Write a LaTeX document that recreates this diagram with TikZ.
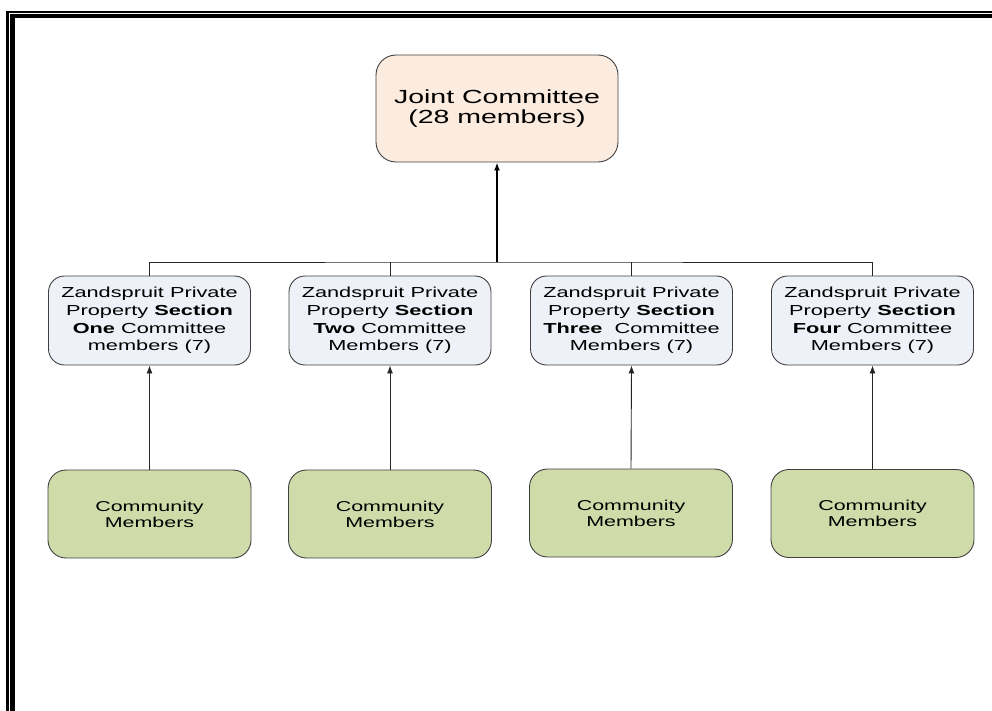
\documentclass[tikz,border=0pt]{standalone}
\usepackage{fontspec}
\newfontfamily\chartfont[FakeStretch=1.5]{Liberation Sans}
\usetikzlibrary{arrows.meta}
\definecolor{jointfill}{HTML}{FCEBDF}
\definecolor{sectionfill}{HTML}{EEF1F7}
\definecolor{communityfill}{HTML}{CFDCAA}
\tikzset{
	chartbox/.style={draw=black!75, line width=0.9pt, align=center, inner sep=0pt},
	jointbox/.style={chartbox, fill=jointfill, rounded corners=20pt, minimum width=242pt, minimum height=107pt, font=\chartfont\fontsize{19}{20.7}\selectfont},
	sectionbox/.style={chartbox, fill=sectionfill, rounded corners=16pt, minimum width=202pt, minimum height=89pt, font=\chartfont\fontsize{14.5}{17.7}\selectfont},
	communitybox/.style={chartbox, fill=communityfill, rounded corners=18pt, minimum width=203pt, minimum height=88pt, font=\chartfont\fontsize{14.3}{16}\selectfont},
	link/.style={line width=0.9pt, black!85},
	uparrow/.style={link, -{Latex[length=8pt,width=6pt]}}
}

\begin{document}
\begin{tikzpicture}[x=1pt, y=-1pt]
			%%%%% START %%%%%
			\useasboundingbox (0, 0) rectangle (992, 711);
			
			\draw[fill=black] (6.3, 11) rectangle (8.3, 711);
			\draw[fill=black] (6.3, 11) rectangle (992, 12.6);
			\draw[fill=black] (10, 14.7) rectangle (14, 711);
			\draw[fill=black] (10, 14.7) rectangle (992, 17.3);
			
			\node[jointbox] (joint) at (497, 108.5) {Joint Committee\\(28 members)};
			
			\node[sectionbox] (secone) at (149.5, 320.5) {Zandspruit Private\\Property \textbf{Section}\\\textbf{One} Committee\\members (7)};
			\node[sectionbox] (sectwo) at (390, 320.5) {Zandspruit Private\\Property \textbf{Section}\\\textbf{Two} Committee\\Members (7)};
			\node[sectionbox] (secthree) at (631.5, 320.5) {Zandspruit Private\\Property \textbf{Section}\\\textbf{Three}\ \ Committee\\Members (7)};
			\node[sectionbox] (secfour) at (872.5, 320.5) {Zandspruit Private\\Property \textbf{Section}\\\textbf{Four} Committee\\Members (7)};
			
			\node[communitybox] (comone) at (149.5, 514) {Community\\Members};
			\node[communitybox] (comtwo) at (390, 514) {Community\\Members};
			\node[communitybox] (comthree) at (631, 513) {Community\\Members};
			\node[communitybox] (comfour) at (872.5, 513.5) {Community\\Members};
			
			\coordinate (bus) at (497, 262);
			\draw[link] (secone.north) |- (bus) -| (secfour.north);
			\draw[link] (sectwo.north) -- (sectwo.north |- bus);
			\draw[link] (secthree.north) -- (secthree.north |- bus);
			\draw[uparrow, line width=1.8pt, black] (bus) -- (joint.south);
			
			\draw[uparrow] (comone.north) -- (secone.south);
			\draw[uparrow] (comtwo.north) -- (sectwo.south);
			\draw[uparrow] (comthree.north) -- (secthree.south);
			\draw[uparrow] (comfour.north) -- (secfour.south);
			%%%%% END %%%%%
\end{tikzpicture}
\end{document}
